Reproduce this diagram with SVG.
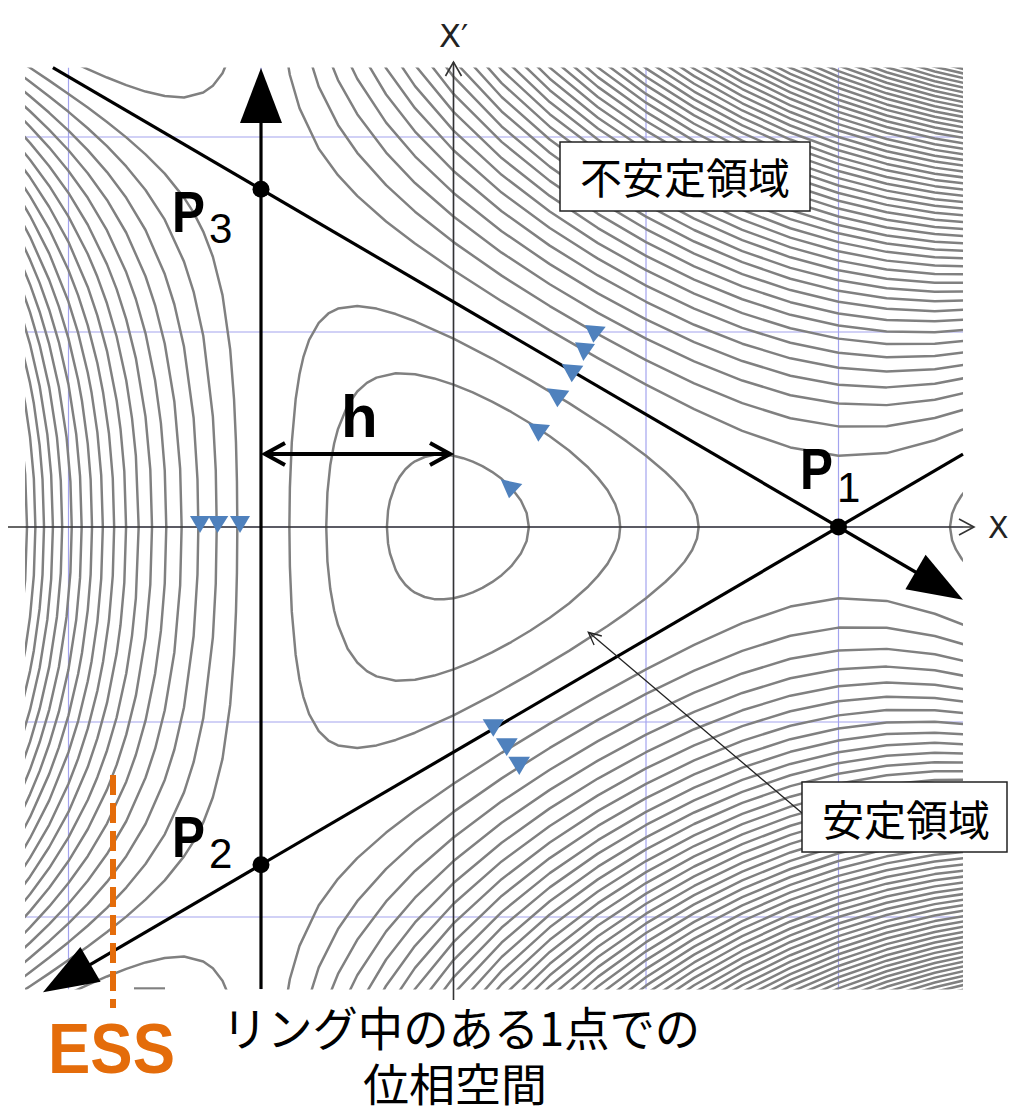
<svg xmlns="http://www.w3.org/2000/svg" width="1012" height="1115" viewBox="0 0 1012 1115">
<defs>
<style>
.grid line{stroke:#a3a3ee;stroke-width:1.2}
.axis{stroke:#333;stroke-width:1.6;fill:none}
.sep{stroke:#000;stroke-width:3.2;fill:none}
.head{fill:#000}
.tri{fill:#4f81bd}
.box{fill:#fff;stroke:#222;stroke-width:1.5}
.jp{font-family:"Noto Sans CJK JP","Noto Sans CJK SC",sans-serif;fill:#000}
.lat{font-family:"Liberation Sans",Arial,sans-serif;fill:#000}
.dj{font-family:"DejaVu Sans",sans-serif;fill:#222}
</style>
<clipPath id="plot"><rect x="25" y="67.5" width="938" height="922"/></clipPath>
</defs>
<rect width="1012" height="1115" fill="#fff"/>
<g id="grid" class="grid" clip-path="url(#plot)">
<line x1="68.5" y1="67.5" x2="68.5" y2="989.5"/>
<line x1="261" y1="67.5" x2="261" y2="989.5"/>
<line x1="453.5" y1="67.5" x2="453.5" y2="989.5"/>
<line x1="646" y1="67.5" x2="646" y2="989.5"/>
<line x1="838.5" y1="67.5" x2="838.5" y2="989.5"/>
<line x1="25" y1="137" x2="963" y2="137"/>
<line x1="25" y1="332" x2="963" y2="332"/>
<line x1="25" y1="527" x2="963" y2="527"/>
<line x1="25" y1="722" x2="963" y2="722"/>
<line x1="25" y1="917" x2="963" y2="917"/>
</g>
<g id="contours" clip-path="url(#plot)">
<g transform="matrix(192.5 0 0 -195 453.5 527)">
<g id="half" fill="none" stroke="#808080" stroke-width="0.0128" stroke-linejoin="round" stroke-linecap="round">
<polyline points="-0.9,2.608 -0.85,2.318 -0.8,2.148 -0.7,1.94 -0.6,1.804 -0.5,1.698 -0.35,1.567 -0.2,1.454 0,1.317 0.25,1.158 0.5,1.008 0.75,0.866 1,0.73 1.25,0.604 1.5,0.493 1.75,0.408 2,0.365 2.25,0.379 2.5,0.445 2.7,0.521"/>
<polyline points="-0.8,2.572 -0.7,2.258 -0.6,2.062 -0.5,1.919 -0.35,1.753 -0.2,1.617 0,1.461 0.25,1.289 0.5,1.133 0.75,0.989 1,0.856 1.25,0.737 1.5,0.635 1.75,0.558 2,0.516 2.25,0.517 2.5,0.559 2.7,0.616"/>
<polyline points="-0.7,2.536 -0.6,2.292 -0.5,2.117 -0.35,1.92 -0.2,1.764 0,1.592 0.25,1.407 0.5,1.245 0.75,1.098 1,0.966 1.25,0.849 1.5,0.751 1.75,0.676 2,0.633 2.25,0.625 2.5,0.653 2.7,0.698"/>
<polyline points="-0.6,2.501 -0.5,2.299 -0.35,2.074 -0.2,1.901 0,1.713 0.25,1.517 0.5,1.348 0.75,1.198 1,1.065 1.25,0.948 1.5,0.851 1.75,0.776 2,0.73 2.25,0.716 2.5,0.735 2.7,0.772"/>
<polyline points="-0.5,2.466 -0.35,2.218 -0.2,2.028 0,1.826 0.25,1.619 0.5,1.443 0.75,1.29 1,1.155 1.25,1.037 1.5,0.94 1.75,0.865 2,0.817 2.25,0.798 2.5,0.809 2.7,0.839"/>
<polyline points="-0.5,2.624 -0.35,2.352 -0.2,2.148 0,1.932 0.25,1.715 0.5,1.533 0.75,1.376 1,1.238 1.25,1.12 1.5,1.021 1.75,0.945 2,0.894 2.25,0.871 2.5,0.877 2.7,0.901"/>
<polyline points="-0.35,2.48 -0.2,2.261 0,2.033 0.25,1.806 0.5,1.618 0.75,1.456 1,1.317 1.25,1.197 1.5,1.097 1.75,1.019 2,0.966 2.25,0.939 2.5,0.94 2.7,0.959"/>
<polyline points="-0.35,2.601 -0.2,2.369 0,2.129 0.25,1.892 0.5,1.698 0.75,1.533 1,1.39 1.25,1.269 1.5,1.168 1.75,1.088 2,1.033 2.25,1.003 2.5,0.999 2.7,1.014"/>
<polyline points="-0.2,2.473 0,2.221 0.25,1.975 0.5,1.775 0.75,1.606 1,1.461 1.25,1.337 1.5,1.234 1.75,1.153 2,1.095 2.25,1.062 2.5,1.055 2.7,1.066"/>
<polyline points="-0.2,2.572 0,2.309 0.25,2.054 0.5,1.848 0.75,1.675 1,1.528 1.25,1.402 1.5,1.297 1.75,1.215 2,1.155 2.25,1.119 2.5,1.107 2.7,1.116"/>
<polyline points="0,2.394 0.25,2.131 0.5,1.919 0.75,1.742 1,1.592 1.25,1.464 1.5,1.358 1.75,1.273 2,1.211 2.25,1.173 2.5,1.158 2.7,1.163"/>
<polyline points="0,2.477 0.25,2.205 0.5,1.987 0.75,1.807 1,1.653 1.25,1.523 1.5,1.415 1.75,1.329 2,1.265 2.25,1.224 2.5,1.206 2.7,1.209"/>
<polyline points="0,2.556 0.25,2.276 0.5,2.053 0.75,1.869 1,1.713 1.25,1.581 1.5,1.471 1.75,1.383 2,1.317 2.25,1.273 2.5,1.253 2.7,1.253"/>
<polyline points="0,2.633 0.25,2.345 0.5,2.117 0.75,1.929 1,1.77 1.25,1.636 1.5,1.524 1.75,1.434 2,1.366 2.25,1.321 2.5,1.297 2.7,1.295"/>
<polyline points="0.25,2.413 0.5,2.179 0.75,1.987 1,1.826 1.25,1.689 1.5,1.576 1.75,1.484 2,1.414 2.25,1.366 2.5,1.341 2.7,1.336"/>
<polyline points="0.25,2.478 0.5,2.24 0.75,2.044 1,1.88 1.25,1.741 1.5,1.626 1.75,1.532 2,1.461 2.25,1.411 2.5,1.383 2.7,1.376"/>
<polyline points="0.25,2.542 0.5,2.299 0.75,2.099 1,1.932 1.25,1.792 1.5,1.674 1.75,1.579 2,1.506 2.25,1.454 2.5,1.423 2.7,1.415"/>
<polyline points="0.25,2.604 0.5,2.356 0.75,2.153 1,1.983 1.25,1.841 1.5,1.721 1.75,1.625 2,1.549 2.25,1.495 2.5,1.463 2.7,1.452"/>
<polyline points="0.5,2.412 0.75,2.205 1,2.033 1.25,1.888 1.5,1.767 1.75,1.669 2,1.592 2.25,1.536 2.5,1.502 2.7,1.489"/>
<polyline points="0.5,2.466 0.75,2.257 1,2.082 1.25,1.935 1.5,1.812 1.75,1.712 2,1.633 2.25,1.576 2.5,1.539 2.7,1.525"/>
<polyline points="0.5,2.52 0.75,2.307 1,2.129 1.25,1.98 1.5,1.856 1.75,1.754 2,1.673 2.25,1.614 2.5,1.576 2.7,1.56"/>
<polyline points="0.5,2.572 0.75,2.356 1,2.176 1.25,2.025 1.5,1.898 1.75,1.795 2,1.713 2.25,1.652 2.5,1.612 2.7,1.594"/>
<polyline points="0.75,2.404 1,2.221 1.25,2.068 1.5,1.94 1.75,1.835 2,1.751 2.25,1.689 2.5,1.647 2.7,1.628"/>
<polyline points="0.75,2.451 1,2.266 1.25,2.111 1.5,1.981 1.75,1.874 2,1.789 2.25,1.725 2.5,1.681 2.7,1.661"/>
<polyline points="0.75,2.497 1,2.309 1.25,2.152 1.5,2.021 1.75,1.912 2,1.826 2.25,1.76 2.5,1.715 2.7,1.693"/>
<polyline points="0.75,2.542 1,2.352 1.25,2.193 1.5,2.06 1.75,1.95 2,1.862 2.25,1.795 2.5,1.748 2.7,1.725"/>
<polyline points="1,2.394 1.25,2.233 1.5,2.098 1.75,1.987 2,1.897 2.25,1.829 2.5,1.78 2.7,1.756"/>
<polyline points="1,2.436 1.25,2.273 1.5,2.136 1.75,2.023 2,1.932 2.25,1.862 2.5,1.812 2.7,1.786"/>
<polyline points="1,2.477 1.25,2.312 1.5,2.173 1.75,2.059 2,1.966 2.25,1.895 2.5,1.843 2.7,1.816"/>
<polyline points="1,2.517 1.25,2.35 1.5,2.21 1.75,2.094 2,2 2.25,1.927 2.5,1.874 2.7,1.846"/>
<polyline points="1.25,2.387 1.5,2.246 1.75,2.128 2,2.033 2.25,1.959 2.5,1.904 2.7,1.875"/>
<polyline points="1.25,2.424 1.5,2.281 1.75,2.162 2,2.066 2.25,1.99 2.5,1.934 2.7,1.903"/>
<polyline points="1.25,2.461 1.5,2.316 1.75,2.196 2,2.098 2.25,2.021 2.5,1.963 2.7,1.932"/>
<polyline points="1.25,2.496 1.5,2.35 1.75,2.229 2,2.129 2.25,2.051 2.5,1.992 2.7,1.959"/>
<polyline points="1.5,2.384 1.75,2.261 2,2.16 2.25,2.081 2.5,2.021 2.7,1.987"/>
<polyline points="1.5,2.417 1.75,2.293 2,2.191 2.25,2.11 2.5,2.049 2.7,2.014"/>
<polyline points="1.5,2.45 1.75,2.324 2,2.221 2.25,2.139 2.5,2.077 2.7,2.04"/>
<polyline points="1.5,2.483 1.75,2.355 2,2.251 2.25,2.167 2.5,2.104 2.7,2.067"/>
<polyline points="1.75,2.386 2,2.28 2.25,2.196 2.5,2.131 2.7,2.093"/>
<polyline points="1.75,2.416 2,2.309 2.25,2.224 2.5,2.158 2.7,2.118"/>
<polyline points="1.75,2.446 2,2.338 2.25,2.251 2.5,2.184 2.7,2.144"/>
<polyline points="1.75,2.476 2,2.366 2.25,2.278 2.5,2.21 2.7,2.169"/>
<polyline points="2,2.394 2.25,2.305 2.5,2.236 2.7,2.194"/>
<polyline points="2,2.422 2.25,2.332 2.5,2.261 2.7,2.218"/>
<polyline points="2,2.45 2.25,2.358 2.5,2.286 2.7,2.242"/>
<polyline points="2.25,2.384 2.5,2.311 2.7,2.266"/>
<polyline points="2.25,2.41 2.5,2.336 2.7,2.29"/>
<polyline points="2.25,2.435 2.5,2.36 2.7,2.314"/>
<polyline points="2.5,2.384 2.7,2.337"/>
<polyline points="2.5,2.408 2.7,2.36"/>
<polyline points="-1.123,0 -1.125,0.235 -1.13,0.434 -1.14,0.655 -1.16,0.91 -1.2,1.189 -1.25,1.386 -1.3,1.515 -1.35,1.612 -1.4,1.689 -1.5,1.812 -1.6,1.911 -1.7,1.998 -1.8,2.077 -1.9,2.151 -2,2.221 -2.1,2.289 -2.2,2.355 -2.25,2.388"/>
<polyline points="-1.23,0 -1.235,0.29 -1.25,0.566 -1.3,0.981 -1.35,1.206 -1.4,1.361 -1.5,1.576 -1.6,1.728 -1.7,1.849 -1.8,1.953 -1.9,2.045 -2,2.129 -2.1,2.208 -2.2,2.283 -2.25,2.32"/>
<polyline points="-1.3255,0 -1.33,0.245 -1.35,0.559 -1.4,0.924 -1.45,1.141 -1.5,1.297 -1.6,1.523 -1.7,1.688 -1.8,1.82 -1.9,1.933 -2,2.033 -2.1,2.124 -2.2,2.209 -2.25,2.25"/>
<polyline points="-1.4123,0 -1.42,0.299 -1.45,0.642 -1.5,0.94 -1.55,1.137 -1.6,1.286 -1.7,1.509 -1.8,1.677 -1.9,1.814 -2,1.932 -2.1,2.037 -2.2,2.132 -2.25,2.177"/>
<polyline points="-1.492,0 -1.5,0.289 -1.52,0.533 -1.55,0.751 -1.6,0.993 -1.65,1.168 -1.7,1.306 -1.8,1.521 -1.9,1.688 -2,1.826 -2.1,1.946 -2.2,2.053 -2.25,2.103"/>
<polyline points="-1.5661,0 -1.575,0.294 -1.6,0.566 -1.65,0.865 -1.7,1.065 -1.75,1.22 -1.8,1.347 -1.9,1.55 -2,1.713 -2.1,1.85 -2.2,1.97 -2.25,2.025"/>
<polyline points="-1.6355,0 -1.65,0.365 -1.67,0.557 -1.7,0.751 -1.75,0.977 -1.8,1.146 -1.85,1.283 -1.9,1.4 -2,1.592 -2.1,1.749 -2.2,1.883 -2.25,1.944"/>
<polyline points="-1.7009,0 -1.71,0.285 -1.73,0.504 -1.75,0.649 -1.8,0.902 -1.85,1.084 -1.9,1.231 -2,1.461 -2.1,1.641 -2.2,1.793 -2.25,1.86"/>
<polyline points="-1.7628,0 -1.77,0.25 -1.79,0.481 -1.82,0.688 -1.85,0.84 -1.9,1.034 -1.95,1.188 -2,1.317 -2.1,1.527 -2.2,1.697 -2.25,1.772"/>
<polyline points="-1.8216,0 -1.83,0.265 -1.85,0.485 -1.88,0.688 -1.9,0.791 -1.95,0.995 -2,1.155 -2.1,1.402 -2.2,1.596 -2.25,1.68"/>
<polyline points="-1.8778,0 -1.885,0.244 -1.9,0.426 -1.93,0.646 -1.95,0.754 -2,0.966 -2.05,1.13 -2.1,1.266 -2.2,1.488 -2.25,1.581"/>
<polyline points="-1.9316,0 -1.94,0.261 -1.96,0.477 -2,0.73 -2.05,0.947 -2.1,1.113 -2.15,1.252 -2.2,1.371 -2.25,1.477"/>
<polyline points="-1.9832,0 -1.99,0.233 -2.01,0.46 -2.05,0.718 -2.1,0.936 -2.15,1.104 -2.2,1.244 -2.25,1.364"/>
<polyline points="-2.0329,0 -2.04,0.236 -2.06,0.46 -2.1,0.716 -2.15,0.933 -2.2,1.102 -2.25,1.241"/>
<polyline points="-2.0809,0 -2.09,0.267 -2.11,0.475 -2.15,0.723 -2.2,0.938 -2.25,1.105"/>
<polyline points="-2.1272,0 -2.135,0.246 -2.15,0.419 -2.18,0.633 -2.2,0.739 -2.25,0.949"/>
<polyline points="-2.172,0 -2.18,0.248 -2.2,0.462 -2.225,0.632 -2.25,0.762 -2.3,0.966"/>
<polyline points="-2.2155,0 -2.225,0.27 -2.25,0.511 -2.3,0.79"/>
<polyline points="-0.3459,0 -0.34,0.084 -0.33,0.136 -0.3,0.221 -0.28,0.257 -0.25,0.296 -0.22,0.323 -0.2,0.337 -0.15,0.359 -0.1,0.37 -0.05,0.371 0,0.365 0.05,0.353 0.1,0.335 0.15,0.312 0.2,0.283 0.25,0.247 0.3,0.201 0.35,0.136 0.38,0.072 0.3915,0"/>
<polyline points="-0.6611,0 -0.655,0.176 -0.64,0.318 -0.62,0.428 -0.6,0.503 -0.55,0.624 -0.5,0.695 -0.45,0.739 -0.4,0.766 -0.3,0.788 -0.2,0.783 -0.1,0.762 0,0.73 0.1,0.69 0.2,0.643 0.3,0.59 0.4,0.531 0.5,0.465 0.6,0.392 0.7,0.305 0.75,0.252 0.8,0.189 0.84,0.117 0.86,0.056 0.8659,0"/>
<polyline points="-0.8526,0 -0.85,0.202 -0.84,0.434 -0.82,0.655 -0.8,0.783 -0.78,0.871 -0.75,0.96 -0.7,1.047 -0.65,1.095 -0.6,1.12 -0.5,1.133 -0.4,1.12 -0.3,1.092 -0.2,1.055 0,0.966 0.2,0.864 0.4,0.753 0.6,0.635 0.8,0.508 0.9,0.439 1,0.365 1.1,0.282 1.15,0.234 1.2,0.178 1.24,0.118 1.265,0.059 1.2735,0"/>
<polyline points="2.5791,0 2.59,0.068 2.61,0.115 2.64,0.163 2.7,0.235"/>
<polyline points="-1.1,2.684 -1.15,2.444 -1.2,2.327 -1.25,2.263 -1.3,2.228 -1.4,2.203 -1.5,2.21 -1.6,2.233 -1.7,2.266 -1.8,2.305 -1.9,2.348 -2,2.394"/>
</g>
<use href="#half" transform="scale(1,-1)"/>
</g>
<line x1="134" y1="988.5" x2="165" y2="988.5" stroke="#808080" stroke-width="2.4"/>
</g>
<g id="axes">
<line class="axis" x1="8" y1="527" x2="974" y2="527"/>
<polyline class="axis" points="959,519 974,527 959,535"/>
<text class="dj" x="988" y="538" font-size="30">X</text>
<line class="axis" x1="453.5" y1="1000" x2="453.5" y2="62"/>
<polyline class="axis" points="445.5,76 453.5,62 461.5,76"/>
<text class="dj" x="439" y="47" font-size="32">X′</text>
</g>
<g id="separatrix">
<line class="sep" x1="261" y1="989" x2="261" y2="118"/>
<polygon class="head" points="261,68 240,123 282,123"/>
<line class="sep" x1="52.9" y1="67.6" x2="918" y2="573.5"/>
<polygon class="head" points="963,599.8 905.4,589.3 925.6,554.7"/>
<line class="sep" x1="963" y1="454.2" x2="88" y2="965.8"/>
<polygon class="head" points="43,992.2 100.6,981.7 80.4,947.1"/>
</g>
<g id="P1"><circle cx="838.5" cy="527" r="8.5"/><text class="lat" x="800" y="489" font-size="58" font-weight="bold" textLength="33" lengthAdjust="spacingAndGlyphs">P</text><text class="lat" x="837" y="502" font-size="42">1</text></g>
<g id="P2"><circle cx="261" cy="864.7" r="8.5"/><text class="lat" x="172" y="857" font-size="58" font-weight="bold" textLength="33" lengthAdjust="spacingAndGlyphs">P</text><text class="lat" x="209" y="868" font-size="42">2</text></g>
<g id="P3"><circle cx="261" cy="189.3" r="8.5"/><text class="lat" x="172" y="232" font-size="58" font-weight="bold" textLength="33" lengthAdjust="spacingAndGlyphs">P</text><text class="lat" x="209" y="243" font-size="42">3</text></g>
<g id="h-width">
<line x1="266" y1="454" x2="449" y2="454" stroke="#000" stroke-width="4"/>
<polyline points="285,443 265,454 285,465" fill="none" stroke="#000" stroke-width="4"/>
<polyline points="430,443 450,454 430,465" fill="none" stroke="#000" stroke-width="4"/>
<text class="lat" x="341" y="437" font-size="60" font-weight="bold">h</text>
</g>
<g id="markers">
<polygon class="tri" points="585,325 605.7,326.7 593.3,342.7"/>
<polygon class="tri" points="575,342.3 595,344 583.3,361"/>
<polygon class="tri" points="561.7,364 583.3,365.7 571.7,382.3"/>
<polygon class="tri" points="546.7,388.3 569.3,390.7 557.3,407.3"/>
<polygon class="tri" points="528.3,423.3 550,425 538.3,441.7"/>
<polygon class="tri" points="500.7,479.3 522.3,484 509,498.3"/>
<polygon class="tri" points="482.7,719.3 504,719.3 493.3,736.7"/>
<polygon class="tri" points="496,738.3 517.7,738.3 506.7,756"/>
<polygon class="tri" points="508.3,756.7 530,756.7 519.3,775"/>
<polygon class="tri" points="190,516 210,516 200,533"/>
<polygon class="tri" points="208.3,516 228.3,516 217.5,533"/>
<polygon class="tri" points="230,516 250,516 240,533"/>
</g>
<g id="unstable-label">
<rect class="box" x="560" y="142" width="250" height="69"/>
<text class="jp" x="580" y="194" font-size="42">不安定領域</text>
</g>
<g id="stable-label">
<line x1="802" y1="813" x2="589" y2="632.5" stroke="#222" stroke-width="1.3"/>
<polyline points="594.1,645 588.3,632.3 601.8,636" fill="none" stroke="#222" stroke-width="1.3"/>
<rect class="box" x="802" y="782" width="205" height="70"/>
<text class="jp" x="822" y="836" font-size="42">安定領域</text>
</g>
<g id="ess">
<line x1="113" y1="775" x2="113" y2="1008" stroke="#e46c0a" stroke-width="6" stroke-dasharray="20 8"/>
<text x="48" y="1073" font-family="Liberation Sans, Arial, sans-serif" font-weight="bold" font-size="70" fill="#e46c0a" textLength="127" lengthAdjust="spacingAndGlyphs">ESS</text>
</g>
<g id="caption">
<text class="jp" x="222" y="1046" font-size="47" textLength="478" lengthAdjust="spacingAndGlyphs">リング中のある1点での</text>
<text class="jp" x="363" y="1102" font-size="45" textLength="184" lengthAdjust="spacingAndGlyphs">位相空間</text>
</g>
</svg>
